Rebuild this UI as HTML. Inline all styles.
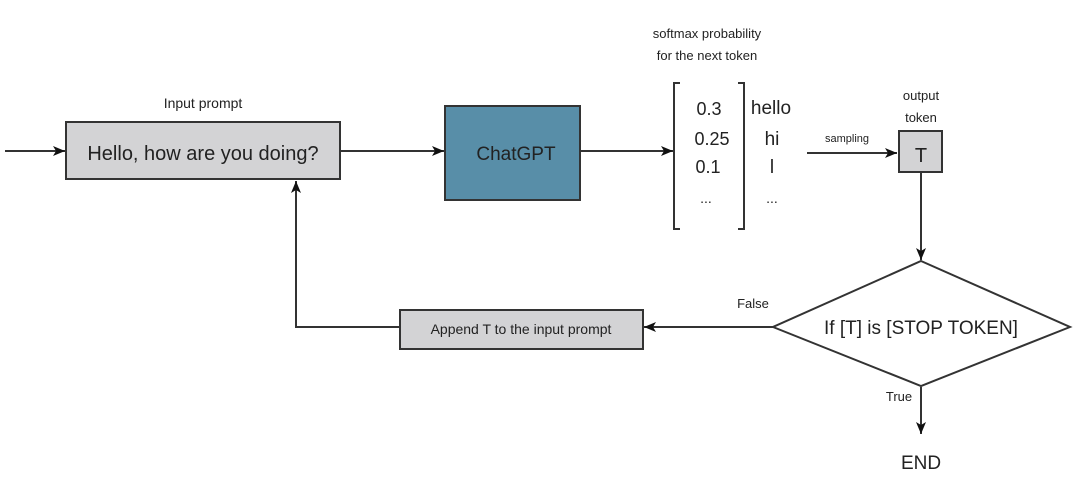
<!DOCTYPE html>
<html><head><meta charset="utf-8"><style>
html,body{margin:0;padding:0;background:#fff;}
svg{display:block;font-family:"Liberation Sans",sans-serif;}
</style></head><body>
<svg width="1080" height="487" viewBox="0 0 1080 487" xmlns="http://www.w3.org/2000/svg">
<defs>
<marker id="a" viewBox="0 0 12 10" refX="12" refY="5" markerWidth="12" markerHeight="10" markerUnits="userSpaceOnUse" orient="auto">
<path d="M0,0 L12,5 L0,10 L3,5 Z" fill="#111"/>
</marker>
</defs>
<g stroke="#333" stroke-width="2" fill="none">
<line x1="5" y1="151" x2="65" y2="151" marker-end="url(#a)"/>
<line x1="341" y1="151" x2="444" y2="151" marker-end="url(#a)"/>
<line x1="581" y1="151" x2="673" y2="151" marker-end="url(#a)"/>
<line x1="807" y1="153" x2="897" y2="153" marker-end="url(#a)"/>
<line x1="921" y1="173" x2="921" y2="260" marker-end="url(#a)"/>
<line x1="921" y1="387" x2="921" y2="434" marker-end="url(#a)"/>
<line x1="773" y1="327" x2="644" y2="327" marker-end="url(#a)"/>
<polyline points="400,327 296,327 296,181" marker-end="url(#a)"/>
<path d="M680,83 L674,83 L674,229 L680,229"/>
<path d="M738,83 L744,83 L744,229 L738,229"/>
</g>
<rect x="66" y="122" width="274" height="57" fill="#d3d3d5" stroke="#333" stroke-width="2"/>
<rect x="445" y="106" width="135" height="94" fill="#588ea8" stroke="#333" stroke-width="2"/>
<rect x="899" y="131" width="43" height="41" fill="#d3d3d5" stroke="#333" stroke-width="2"/>
<rect x="400" y="310" width="243" height="39" fill="#d3d3d5" stroke="#333" stroke-width="2"/>
<polygon points="921,261 1070,327 921,386 773,327" fill="#fff" stroke="#333" stroke-width="2"/>
<g fill="#222" text-anchor="middle">
<text x="203" y="108" font-size="14">Input prompt</text>
<text x="203" y="160" font-size="20">Hello, how are you doing?</text>
<text x="516" y="160" font-size="19">ChatGPT</text>
<text x="707" y="38" font-size="13">softmax probability</text>
<text x="707" y="60" font-size="13">for the next token</text>
<text x="709" y="115" font-size="18">0.3</text>
<text x="712" y="145" font-size="18">0.25</text>
<text x="708" y="173" font-size="18">0.1</text>
<text x="706" y="203" font-size="14">...</text>
<text x="771" y="114" font-size="19">hello</text>
<text x="772" y="145" font-size="19">hi</text>
<text x="772" y="173" font-size="19">l</text>
<text x="772" y="203" font-size="14">...</text>
<text x="847" y="142" font-size="11">sampling</text>
<text x="921" y="100" font-size="13">output</text>
<text x="921" y="122" font-size="13">token</text>
<text x="921" y="162" font-size="20">T</text>
<text x="521" y="334" font-size="14">Append T to the input prompt</text>
<text x="921" y="334" font-size="19">If [T] is [STOP TOKEN]</text>
<text x="753" y="308" font-size="13">False</text>
<text x="899" y="401" font-size="13">True</text>
<text x="921" y="469" font-size="19">END</text>
</g>
</svg>
</body></html>
